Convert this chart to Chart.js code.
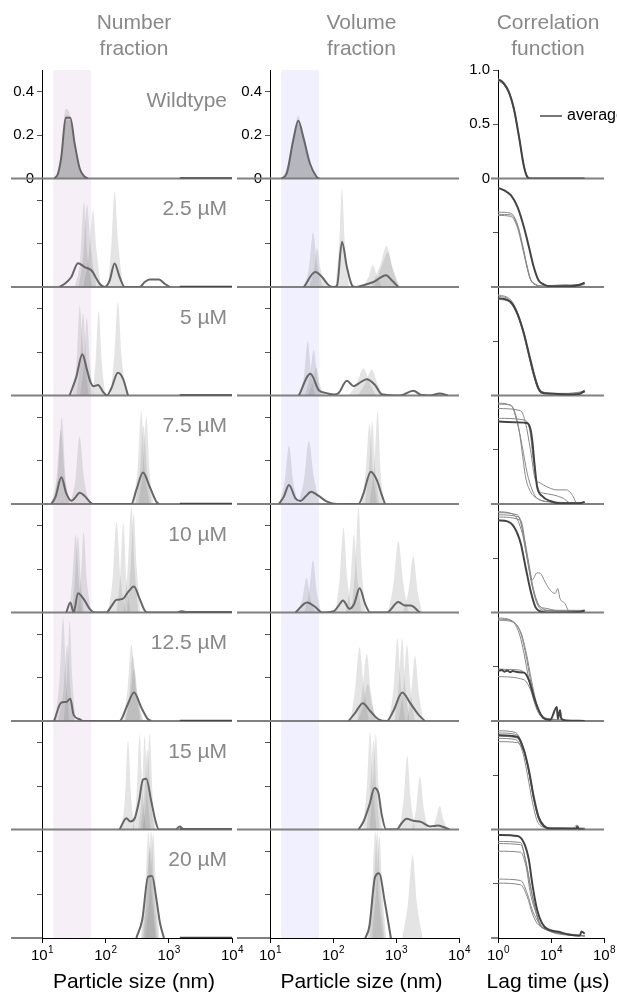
<!DOCTYPE html>
<html>
<head>
<meta charset="utf-8">
<script src="https://cdn.jsdelivr.net/npm/chart.js@4.4.1/dist/chart.umd.min.js"></script>
<style>
  html, body { margin: 0; padding: 0; background: #fff; }
  #wrap { position: relative; width: 617px; height: 994px; overflow: hidden; }
  canvas { position: absolute; top: 0; }
</style>
</head>
<body>
<div id="wrap">
  <canvas id="chart-number" width="250" height="994" style="left:0"></canvas>
  <canvas id="chart-volume" width="240" height="994" style="left:236px"></canvas>
  <canvas id="chart-corr" width="151" height="994" style="left:466px"></canvas>
</div>
<script>
/* =============================================
   DLS SIZE DISTRIBUTIONS + CORRELATION FUNCTIONS
   ============================================= */

Chart.defaults.font.family = "'Liberation Sans', Arial, sans-serif";
Chart.defaults.color = '#000';

// ---------- categories / ticks ----------
const rowLabels = ['Wildtype', '2.5 µM', '5 µM', '7.5 µM', '10 µM', '12.5 µM', '15 µM', '20 µM'];
const columnTitles = [['Number', 'fraction'], ['Volume', 'fraction'], ['Correlation', 'function']];
const axisTitles = ['Particle size (nm)', 'Particle size (nm)', 'Lag time (µs)'];
const sizeTicks = [10, 100, 1000, 10000];
const sizeTickExponents = ['1', '2', '3', '4'];
const lagTicks = [1, 1e4, 1e8];
const lagTickExponents = ['0', '4', '8'];
const fractionTicks = [0, 0.2, 0.4];
const fractionTickLabels = ['0', '0.2', '0.4'];
const corrTicks = [0, 0.5, 1];
const corrTickLabels = ['0', '0.5', '1.0'];
const bandRange = [15, 60];

// ---------- number fraction: [size nm, fraction] ----------
const numberAvg = [
    [[15.8, 0], [17.9, 0.023], [20.2, 0.1], [23.7, 0.28], [28, 0.28], [32.8, 0.16], [39.4, 0.046], [47.2, 0.008], [53.2, 0]],
    [[19, 0], [22.8, 0.015], [29, 0.046], [37, 0.11], [47.2, 0.092], [60.1, 0.077], [81.4, 0.015], [97.5, 0], [117, 0.03], [140, 0.108], [168, 0.046], [202, 0], [348, 0], [418, 0.023], [501, 0.034], [703, 0.034], [865, 0.015], [1038, 0]],
    [[27.3, 0], [34.8, 0.086], [43.3, 0.19], [51.4, 0.117], [58, 0.063], [65.4, 0.043], [76.6, 0.048], [91.9, 0.017], [106, 0], [124, 0.032], [158, 0.105], [190, 0.078], [228, 0]],
    [[14, 0], [16.4, 0.034], [20.2, 0.123], [24.2, 0.049], [29, 0.015], [32.8, 0.026], [39.3, 0.052], [47.2, 0.037], [60.1, 0.003], [63, 0], [257, 0], [309, 0.065], [393, 0.145], [501, 0.08], [638, 0.011], [703, 0]],
    [[24.2, 0], [28, 0.046], [31.6, 0], [37, 0.089], [47.2, 0.055], [56.6, 0.017], [67.9, 0], [104, 0], [124, 0.028], [149, 0.058], [190, 0.063], [228, 0.094], [284, 0.12], [340, 0.071], [418, 0.009], [472, 0], [1300, 0], [1600, 0.006], [2000, 0]],
    [[15.5, 0], [20.2, 0.085], [24.2, 0.088], [28, 0.103], [31.6, 0.028], [39.3, 0.008], [44.4, 0], [168, 0], [215, 0.062], [284, 0.131], [370, 0.062], [472, 0.008], [532, 0]],
    [[168, 0], [215, 0.052], [248, 0.037], [291, 0.052], [340, 0.13], [393, 0.23], [444, 0.234], [532, 0.129], [624, 0.037], [703, 0], [1300, 0], [1493, 0.014], [1700, 0]],
    [[308, 0], [382, 0.083], [474, 0.283], [548, 0.286], [632, 0.19], [731, 0.068], [843, 0]]
];
const numberReps = [
    [
        [[15.5, 0], [18, 0.04], [20.5, 0.15], [23.5, 0.32], [27.5, 0.3], [32, 0.15], [40, 0.04], [52, 0]],
        [[16, 0], [18.5, 0.03], [21, 0.14], [24, 0.29], [28, 0.28], [33, 0.15], [41, 0.04], [54, 0]],
        [[15.8, 0], [18, 0.03], [20.5, 0.12], [23.5, 0.26], [28, 0.27], [33, 0.17], [40, 0.05], [53, 0]]
    ],
    [
        [[38, 0], [45, 0.15], [51.4, 0.38], [58, 0.2], [72, 0]],
        [[45, 0], [55, 0.15], [63.8, 0.35], [72, 0.18], [85, 0]],
        [[110, 0], [125, 0.2], [140, 0.44], [160, 0.2], [190, 0]],
        [[33, 0], [40, 0.12], [46, 0.39], [52, 0.15], [62, 0]]
    ],
    [
        [[30, 0], [35, 0.15], [39.3, 0.41], [45, 0.2], [55, 0]],
        [[35, 0], [40, 0.15], [44.4, 0.38], [50, 0.18], [60, 0]],
        [[40, 0], [46, 0.15], [51, 0.36], [57, 0.15], [66, 0]],
        [[62, 0], [70, 0.15], [78.5, 0.39], [88, 0.15], [100, 0]],
        [[120, 0], [140, 0.2], [158, 0.43], [180, 0.18], [215, 0]]
    ],
    [
        [[14, 0], [17, 0.12], [19.7, 0.34], [23, 0.12], [28, 0]],
        [[15, 0], [18, 0.15], [20.5, 0.4], [23.5, 0.12], [27, 0]],
        [[28, 0], [34, 0.12], [39, 0.31], [46, 0.12], [55, 0]],
        [[270, 0], [320, 0.15], [370, 0.43], [420, 0.15], [500, 0]],
        [[330, 0], [390, 0.15], [444, 0.4], [500, 0.15], [580, 0]],
        [[300, 0], [350, 0.14], [400, 0.36], [460, 0.14], [540, 0]]
    ],
    [
        [[27, 0], [30, 0.15], [34, 0.36], [38, 0.15], [43, 0]],
        [[30, 0], [33, 0.15], [37, 0.35], [41, 0.15], [46, 0]],
        [[36, 0], [41, 0.15], [45.5, 0.37], [51, 0.15], [60, 0]],
        [[110, 0], [130, 0.15], [150, 0.42], [175, 0.15], [210, 0]],
        [[150, 0], [170, 0.15], [192, 0.41], [215, 0.15], [250, 0]],
        [[195, 0], [225, 0.2], [257, 0.486], [290, 0.2], [330, 0]],
        [[220, 0], [250, 0.2], [280, 0.455], [315, 0.2], [360, 0]]
    ],
    [
        [[16, 0], [19, 0.2], [21.5, 0.477], [24, 0.2], [27, 0]],
        [[22, 0], [25, 0.2], [27.3, 0.46], [30, 0.2], [34, 0]],
        [[18, 0], [22, 0.15], [25, 0.35], [28, 0.15], [32, 0]],
        [[190, 0], [225, 0.15], [257, 0.354], [300, 0.15], [360, 0]],
        [[210, 0], [250, 0.12], [285, 0.24], [330, 0.1], [400, 0]],
        [[200, 0], [240, 0.12], [270, 0.3], [320, 0.12], [380, 0]]
    ],
    [
        [[180, 0], [205, 0.15], [228, 0.41], [255, 0.15], [290, 0]],
        [[270, 0], [310, 0.15], [348, 0.437], [390, 0.15], [440, 0]],
        [[330, 0], [375, 0.15], [418, 0.43], [465, 0.15], [520, 0]],
        [[390, 0], [445, 0.15], [501, 0.44], [560, 0.15], [630, 0]],
        [[360, 0], [410, 0.15], [460, 0.37], [520, 0.15], [590, 0]]
    ],
    [
        [[360, 0], [420, 0.2], [480, 0.49], [540, 0.2], [620, 0]],
        [[400, 0], [460, 0.2], [530, 0.49], [600, 0.2], [680, 0]],
        [[430, 0], [500, 0.2], [570, 0.48], [640, 0.2], [720, 0]],
        [[380, 0], [440, 0.18], [505, 0.42], [570, 0.18], [650, 0]]
    ]
];
const numberTail = [[1500, 0], [10000, 0]];

// ---------- volume fraction: [size nm, fraction] ----------
const volumeAvg = [
    [[15.3, 0], [18.4, 0.023], [23.4, 0.177], [28.1, 0.266], [33.7, 0.192], [43, 0.069], [54.8, 0.008], [60.3, 0]],
    [[34.4, 0], [52.6, 0.069], [67, 0.046], [85.5, 0.008], [103, 0], [116, 0.008], [139, 0.208], [166, 0.092], [200, 0.008], [225, 0], [305, 0.008], [439, 0.023], [695, 0.054], [855, 0.031], [1089, 0]],
    [[28.7, 0], [43.8, 0.1], [59.4, 0.025], [75.7, 0.012], [103, 0.005], [123, 0.012], [166, 0.068], [212, 0.043], [254, 0.055], [344, 0.075], [466, 0.048], [594, 0.006], [1156, 0], [1879, 0.022], [2541, 0.002], [3441, 0], [4955, 0.009], [6699, 0]],
    [[13.9, 0], [16.6, 0.034], [20, 0.088], [25.4, 0.026], [30.5, 0.014], [36.6, 0.034], [45, 0.057], [59.4, 0.037], [80.4, 0.011], [116, 0], [254, 0], [305, 0.049], [398, 0.149], [495, 0.111], [594, 0.042], [670, 0]],
    [[25.4, 0], [38.8, 0.046], [52.6, 0.025], [67, 0], [103, 0.006], [123, 0.032], [144, 0.055], [183, 0.017], [217, 0.04], [264, 0.112], [324, 0.04], [388, 0], [713, 0], [1089, 0.048], [1387, 0.032], [1706, 0.032], [2393, 0]],
    [[177, 0], [225, 0.038], [298, 0.082], [388, 0.046], [526, 0.008], [713, 0], [908, 0.046], [1259, 0.131], [1663, 0.085], [2254, 0.031], [2871, 0]],
    [[254, 0], [305, 0.037], [379, 0.114], [455, 0.191], [526, 0.168], [594, 0.068], [695, 0], [1025, 0], [1228, 0.029], [1472, 0.049], [1879, 0.04], [2541, 0.034], [3441, 0.014], [4655, 0.018], [6310, 0.006], [7125, 0]],
    [[326, 0], [377, 0.052], [467, 0.283], [538, 0.298], [670, 0.16], [830, 0]]
];
const volumeReps = [
    [
        [[15.5, 0], [19, 0.05], [24, 0.2], [28, 0.29], [33, 0.2], [42, 0.06], [58, 0]],
        [[16, 0], [20, 0.06], [25, 0.22], [29, 0.27], [35, 0.16], [45, 0.04], [60, 0]],
        [[15, 0], [18, 0.04], [23, 0.17], [27.5, 0.25], [33, 0.19], [43, 0.07], [55, 0]]
    ],
    [
        [[35, 0], [42, 0.1], [48.3, 0.25], [56, 0.1], [70, 0]],
        [[42, 0], [50, 0.08], [55.9, 0.18], [64, 0.08], [82, 0]],
        [[110, 0], [125, 0.2], [139, 0.45], [155, 0.2], [180, 0]],
        [[400, 0], [560, 0.1], [713, 0.19], [850, 0.1], [1100, 0]],
        [[300, 0], [370, 0.05], [427, 0.1], [500, 0.05], [600, 0]],
        [[450, 0], [600, 0.1], [750, 0.16], [900, 0.08], [1150, 0]]
    ],
    [
        [[30, 0], [35, 0.1], [39.8, 0.25], [45, 0.1], [52, 0]],
        [[36, 0], [43, 0.09], [49.5, 0.21], [56, 0.09], [66, 0]],
        [[40, 0], [47, 0.06], [54, 0.13], [62, 0.05], [72, 0]],
        [[180, 0], [240, 0.06], [305, 0.125], [380, 0.06], [480, 0]],
        [[250, 0], [330, 0.06], [413, 0.12], [500, 0.06], [620, 0]]
    ],
    [
        [[14, 0], [17, 0.1], [20, 0.27], [23.5, 0.1], [28, 0]],
        [[28, 0], [35, 0.12], [41.3, 0.29], [50, 0.12], [62, 0]],
        [[280, 0], [330, 0.15], [380, 0.37], [430, 0.15], [500, 0]],
        [[320, 0], [370, 0.15], [420, 0.38], [470, 0.15], [540, 0]],
        [[380, 0], [450, 0.17], [513, 0.43], [570, 0.15], [650, 0]]
    ],
    [
        [[28, 0], [33, 0.07], [38, 0.16], [44, 0.06], [52, 0]],
        [[35, 0], [42, 0.1], [48.3, 0.24], [55, 0.1], [65, 0]],
        [[110, 0], [128, 0.16], [147, 0.39], [168, 0.16], [195, 0]],
        [[160, 0], [190, 0.15], [215, 0.36], [245, 0.15], [285, 0]],
        [[195, 0], [225, 0.2], [254, 0.486], [285, 0.2], [330, 0]],
        [[750, 0], [920, 0.14], [1089, 0.33], [1300, 0.14], [1550, 0]],
        [[1300, 0], [1600, 0.11], [1879, 0.26], [2200, 0.1], [2600, 0]]
    ],
    [
        [[190, 0], [225, 0.15], [264, 0.34], [310, 0.15], [370, 0]],
        [[240, 0], [290, 0.13], [344, 0.31], [400, 0.13], [480, 0]],
        [[250, 0], [300, 0.07], [355, 0.17], [420, 0.07], [500, 0]],
        [[780, 0], [920, 0.16], [1050, 0.38], [1200, 0.16], [1400, 0]],
        [[950, 0], [1100, 0.16], [1250, 0.38], [1400, 0.16], [1650, 0]],
        [[1100, 0], [1300, 0.15], [1500, 0.35], [1700, 0.15], [2000, 0]],
        [[1500, 0], [1750, 0.13], [2000, 0.3], [2300, 0.13], [2700, 0]]
    ],
    [
        [[300, 0], [345, 0.2], [388, 0.45], [430, 0.2], [490, 0]],
        [[340, 0], [390, 0.18], [440, 0.41], [490, 0.18], [550, 0]],
        [[380, 0], [430, 0.2], [480, 0.44], [530, 0.2], [600, 0]],
        [[1150, 0], [1330, 0.15], [1510, 0.34], [1700, 0.15], [2000, 0]],
        [[1800, 0], [2100, 0.1], [2393, 0.245], [2750, 0.1], [3200, 0]],
        [[3800, 0], [4300, 0.05], [4955, 0.11], [5600, 0.05], [6500, 0]]
    ],
    [
        [[350, 0], [410, 0.2], [470, 0.49], [530, 0.2], [620, 0]],
        [[380, 0], [440, 0.2], [505, 0.49], [570, 0.2], [660, 0]],
        [[420, 0], [480, 0.2], [545, 0.47], [610, 0.2], [700, 0]],
        [[1260, 0], [1550, 0.16], [1832, 0.383], [2150, 0.16], [2630, 0]]
    ]
];

// ---------- correlation function: [lag µs, g] ----------
const corrAvg = [
    [[1, 0.91], [1.7, 0.9], [3, 0.87], [7, 0.79], [16, 0.64], [38, 0.39], [91, 0.11], [162, 0.015], [282, 0], [3467000, 0]],
    [[1, 0.914], [3, 0.89], [9.3, 0.846], [29, 0.74], [91, 0.55], [214, 0.37], [500, 0.185], [1175, 0.06], [2754, 0.025], [8710, 0.006], [269200, 0.006], [1479000, 0.02], [3467000, 0.04]],
    [[1, 0.9], [9.3, 0.86], [29, 0.754], [91, 0.57], [214, 0.385], [500, 0.2], [1175, 0.06], [2754, 0.02], [15490, 0.015], [269200, 0.01], [1479000, 0.015], [3467000, 0.045]],
    [[1, 0.76], [91, 0.75], [162, 0.745], [282, 0.69], [380, 0.59], [562, 0.375], [891, 0.16], [2089, 0.074], [8710, 0.028], [47860, 0.006], [1479000, 0.006], [3467000, 0.02]],
    [[1, 0.85], [5.2, 0.84], [16, 0.79], [51, 0.64], [120, 0.42], [282, 0.206], [676, 0.05], [1585, 0.01], [4898, 0], [1479000, 0.005], [3467000, 0.02]],
    [[1, 0.46], [2, 0.47], [3, 0.455], [5, 0.465], [8, 0.45], [13, 0.46], [20, 0.455], [35, 0.45], [91, 0.446], [214, 0.38], [500, 0.225], [1175, 0.1], [2754, 0.025], [8710, 0.01], [27540, 0.13], [33000, 0.02], [47860, 0.1], [60000, 0.02], [151400, 0.005], [3467000, 0]],
    [[1, 0.87], [29, 0.855], [91, 0.73], [214, 0.546], [500, 0.3], [1175, 0.114], [2754, 0.037], [8710, 0.006], [831800, 0.006], [1000000, 0.03], [1200000, 0.005], [3467000, 0]],
    [[1, 0.95], [29, 0.94], [91, 0.877], [214, 0.72], [380, 0.506], [891, 0.26], [2089, 0.136], [6500, 0.074], [27540, 0.06], [269200, 0.03], [1479000, 0.02], [2000000, 0.06], [3467000, 0.04]]
];
const corrReps = [
    [
        [[1, 0.92], [3, 0.88], [7, 0.8], [16, 0.65], [38, 0.4], [91, 0.12], [162, 0.02], [282, 0], [3467000, 0]],
        [[1, 0.9], [3, 0.86], [7, 0.78], [16, 0.62], [38, 0.37], [91, 0.1], [162, 0.012], [282, 0], [3467000, 0]]
    ],
    [
        [[1, 0.69], [9.3, 0.68], [29, 0.58], [68, 0.4], [162, 0.185], [282, 0.077], [676, 0.025], [2754, 0.006], [47860, 0.01], [151400, 0.02], [478600, 0.01], [1479000, 0.015], [3467000, 0.03]],
        [[1, 0.67], [9.3, 0.665], [29, 0.57], [68, 0.39], [162, 0.18], [282, 0.07], [676, 0.02], [2754, 0.01], [85110, 0.02], [269200, 0.015], [1479000, 0.025], [3467000, 0.035]],
        [[1, 0.66], [9.3, 0.65], [29, 0.55], [68, 0.37], [162, 0.17], [282, 0.07], [676, 0.022], [2754, 0.008], [47860, 0.006], [478600, 0.02], [3467000, 0.02]]
    ],
    [
        [[1, 0.93], [9.3, 0.88], [29, 0.77], [91, 0.58], [214, 0.39], [380, 0.28], [500, 0.22], [1175, 0.07], [2754, 0.03], [15490, 0.02], [269200, 0.02], [3467000, 0.04]],
        [[1, 0.92], [9.3, 0.87], [29, 0.76], [91, 0.57], [214, 0.38], [500, 0.19], [1175, 0.05], [2754, 0.03], [8710, 0.02], [269200, 0.015], [3467000, 0.03]],
        [[1, 0.9], [9.3, 0.86], [29, 0.75], [91, 0.56], [214, 0.37], [500, 0.18], [1175, 0.06], [2754, 0.025], [15490, 0.02], [269200, 0.015], [1479000, 0.02], [3467000, 0.035]],
        [[1, 0.89], [9.3, 0.85], [29, 0.74], [91, 0.55], [214, 0.36], [500, 0.19], [1175, 0.07], [2754, 0.02], [47860, 0.015], [3467000, 0.03]]
    ],
    [
        [[1, 0.93], [5.2, 0.92], [16, 0.87], [39, 0.68], [68, 0.47], [120, 0.25], [282, 0.114], [891, 0.052], [4898, 0.022], [3467000, 0.01]],
        [[1, 0.92], [9.3, 0.91], [29, 0.745], [68, 0.53], [162, 0.28], [380, 0.13], [891, 0.052], [8710, 0.02], [3467000, 0.01]],
        [[1, 0.88], [51, 0.86], [120, 0.745], [282, 0.5], [676, 0.22], [1175, 0.2], [2754, 0.175], [8710, 0.145], [27540, 0.13], [151400, 0.13], [478600, 0.068], [831800, 0.012], [3467000, 0.01]],
        [[1, 0.79], [91, 0.775], [250, 0.68], [500, 0.375], [1175, 0.13], [2754, 0.1], [15490, 0.083], [85110, 0.052], [269200, 0.012], [3467000, 0.01]]
    ],
    [
        [[1, 0.93], [16, 0.9], [68, 0.73], [162, 0.51], [380, 0.3], [891, 0.366], [1585, 0.36], [3630, 0.28], [8710, 0.206], [20400, 0.175], [32000, 0.22], [47860, 0.13], [113000, 0.083], [200000, 0.02], [360000, 0], [3467000, 0.01]],
        [[1, 0.92], [29, 0.9], [91, 0.7], [214, 0.45], [500, 0.2], [1175, 0.068], [4898, 0.037], [27540, 0.02], [3467000, 0.02]],
        [[1, 0.9], [39, 0.88], [120, 0.575], [282, 0.33], [676, 0.145], [1585, 0.05], [8710, 0.02], [3467000, 0.015]],
        [[1, 0.88], [51, 0.85], [162, 0.5], [380, 0.24], [891, 0.08], [2754, 0.02], [3467000, 0.01]]
    ],
    [
        [[1, 0.95], [9.3, 0.93], [39, 0.81], [91, 0.625], [214, 0.38], [500, 0.19], [1175, 0.07], [2754, 0.025], [8710, 0.01], [3467000, 0]],
        [[1, 0.94], [12, 0.92], [51, 0.81], [120, 0.625], [282, 0.38], [676, 0.18], [1585, 0.055], [4898, 0.015], [3467000, 0]],
        [[1, 0.93], [15, 0.91], [60, 0.8], [140, 0.62], [330, 0.38], [780, 0.17], [1800, 0.05], [5500, 0.01], [3467000, 0]],
        [[1, 0.41], [91, 0.38], [282, 0.29], [676, 0.163], [1585, 0.07], [4898, 0.025], [3467000, 0]],
        [[1, 0.48], [5, 0.475], [40, 0.47], [120, 0.43], [282, 0.33], [676, 0.18], [1585, 0.07], [4898, 0.02], [3467000, 0]]
    ],
    [
        [[1, 0.91], [20, 0.895], [80, 0.76], [200, 0.55], [450, 0.3], [1050, 0.11], [2500, 0.035], [8710, 0.01], [478600, 0.01], [831800, 0.04], [1000000, 0.01], [3467000, 0.01]],
        [[1, 0.89], [25, 0.875], [91, 0.73], [214, 0.53], [500, 0.28], [1175, 0.1], [2754, 0.03], [15490, 0.015], [3467000, 0.01]],
        [[1, 0.86], [25, 0.845], [100, 0.7], [260, 0.48], [600, 0.25], [1300, 0.08], [3000, 0.025], [15490, 0.015], [3467000, 0.01]],
        [[1, 0.84], [20, 0.83], [70, 0.72], [170, 0.5], [400, 0.25], [900, 0.08], [2200, 0.025], [8710, 0.015], [3467000, 0.01]],
        [[1, 0.81], [30, 0.8], [110, 0.68], [280, 0.47], [650, 0.22], [1500, 0.07], [3500, 0.02], [8710, 0.015], [3467000, 0.01]]
    ],
    [
        [[1, 0.89], [51, 0.88], [120, 0.72], [282, 0.475], [676, 0.26], [1585, 0.12], [4898, 0.09], [27540, 0.06], [151400, 0.03], [3467000, 0.02]],
        [[1, 0.87], [51, 0.86], [130, 0.7], [300, 0.46], [700, 0.25], [1600, 0.11], [4898, 0.08], [27540, 0.05], [151400, 0.04], [3467000, 0.02]],
        [[1, 0.8], [51, 0.79], [130, 0.66], [282, 0.41], [800, 0.22], [2089, 0.1], [6000, 0.07], [27540, 0.04], [3467000, 0.02]],
        [[1, 0.543], [51, 0.53], [162, 0.41], [380, 0.26], [891, 0.167], [2089, 0.1], [8710, 0.074], [47860, 0.043], [3467000, 0.02]],
        [[1, 0.506], [51, 0.49], [162, 0.38], [380, 0.23], [891, 0.136], [2754, 0.09], [15490, 0.05], [3467000, 0.02]]
    ]
];

// =================== HELPERS ===================
const repFill = 'rgba(120,120,120,0.2)';
const FONT = "'Liberation Sans', Arial, sans-serif";
const TOP = 70;          // top of first row
const XAXIS_H = 56;      // space under last row

function distDatasets(avg, reps, tail) {
    const sets = [];
    avg.forEach((row, i) => {
        const yAxisID = 'r' + i;
        sets.push({ data: row, yAxisID, borderColor: '#666', borderWidth: 2, fill: false, order: 0, cubicInterpolationMode: 'monotone' });
        if (tail) sets.push({ data: tail, yAxisID, borderColor: '#444', borderWidth: 2.5, fill: false, order: 0 });
        reps[i].forEach(r => sets.push({ data: r, yAxisID, borderWidth: 0, backgroundColor: repFill, fill: 'origin', order: 1, cubicInterpolationMode: 'monotone' }));
    });
    return sets;
}

function corrDatasets(avg, reps) {
    const sets = [];
    avg.forEach((row, i) => {
        const yAxisID = 'r' + i;
        sets.push({ data: row, yAxisID, borderColor: '#444', borderWidth: 2, fill: false, order: 0, cubicInterpolationMode: 'monotone' });
        reps[i].forEach(r => sets.push({ data: r, yAxisID, borderColor: '#888', borderWidth: 1, fill: false, order: 1, cubicInterpolationMode: 'monotone' }));
    });
    return sets;
}

// one y axis per row, stacked top to bottom
function rowAxes(max, ticks, labels, width) {
    const axes = {};
    rowLabels.forEach((_, i) => {
        const vals = i === 0 ? ticks : ticks.slice(1);
        axes['r' + i] = {
            axis: 'y', type: 'linear', position: 'left',
            stack: 'rows', stackWeight: 1, weight: rowLabels.length - i,
            min: 0, max: max,
            border: { color: '#000', width: 1 },
            grid: { drawOnChartArea: false, tickLength: 5, color: '#555' },
            ticks: { padding: 3, font: { size: 15 }, callback: (v, k) => i === 0 ? labels[k] : '' },
            afterBuildTicks: s => { s.ticks = vals.map(v => ({ value: v })); },
            afterFit: s => { s.width = width; s.paddingTop = 0; s.paddingBottom = 0; }
        };
    });
    return axes;
}

// decade labels and axis title are drawn by the decor plugin
function xAxis(min, max, ticks) {
    return {
        type: 'logarithmic', min, max, position: 'bottom',
        border: { color: '#000', width: 1 },
        grid: { drawOnChartArea: false, tickLength: 5, color: '#000' },
        ticks: { maxRotation: 0, autoSkip: false, callback: () => '' },
        afterBuildTicks: s => { s.ticks = ticks.map(v => ({ value: v })); },
        afterFit: s => { s.height = XAXIS_H; s.paddingLeft = 0; s.paddingRight = 0; }
    };
}

// band, row baselines, titles, decade labels, row labels, legend
function decor(cfg) {
    return {
        id: 'decor',
        beforeDatasetsDraw(chart) {
            const { ctx, chartArea: a } = chart;
            ctx.save();
            if (cfg.bandColor) {
                const x0 = chart.scales.x.getPixelForValue(bandRange[0]);
                const x1 = chart.scales.x.getPixelForValue(bandRange[1]);
                ctx.fillStyle = cfg.bandColor;
                ctx.fillRect(x0, a.top, x1 - x0, a.bottom - a.top);
            }
            ctx.strokeStyle = '#808080';
            ctx.lineWidth = 2;
            rowLabels.forEach((_, i) => {
                const y = chart.scales['r' + i].getPixelForValue(0);
                const right = i === rowLabels.length - 1 ? a.left : a.right;
                ctx.beginPath();
                ctx.moveTo(cfg.lineFrom, y);
                ctx.lineTo(right, y);
                ctx.stroke();
            });
            ctx.restore();
        },
        afterDraw(chart) {
            const { ctx, chartArea: a } = chart;
            const x = chart.scales.x;
            const cx = (a.left + a.right) / 2 - 3;
            ctx.save();

            // decade tick labels
            ctx.fillStyle = '#000';
            ctx.textBaseline = 'alphabetic';
            ctx.textAlign = 'left';
            cfg.ticks.forEach((v, k) => {
                const px = x.getPixelForValue(v);
                ctx.font = '15px ' + FONT;
                const wBase = ctx.measureText('10').width;
                ctx.font = '10px ' + FONT;
                const wExp = ctx.measureText(cfg.exps[k]).width;
                const left = px - (wBase + wExp) / 2;
                ctx.font = '15px ' + FONT;
                ctx.fillText('10', left, a.bottom + 22);
                ctx.font = '10px ' + FONT;
                ctx.fillText(cfg.exps[k], left + wBase + 0.5, a.bottom + 15);
            });

            // axis title
            ctx.textAlign = 'center';
            ctx.textBaseline = 'middle';
            ctx.font = '21px ' + FONT;
            ctx.fillText(cfg.axisTitle, cx, 982);

            // column titles
            ctx.fillStyle = '#888';
            ctx.fillText(cfg.title[0], cx, 23);
            ctx.fillText(cfg.title[1], cx, 49);

            if (cfg.rowText) {
                ctx.textAlign = 'right';
                rowLabels.forEach((label, i) => {
                    ctx.fillText(label, a.right - 5, chart.scales['r' + i].top + 31);
                });
            }
            if (cfg.legend) {
                const y = TOP + 46;
                ctx.strokeStyle = '#777';
                ctx.lineWidth = 2;
                ctx.beginPath();
                ctx.moveTo(a.left + 42, y);
                ctx.lineTo(a.left + 64, y);
                ctx.stroke();
                ctx.fillStyle = '#000';
                ctx.textAlign = 'left';
                ctx.font = '16px ' + FONT;
                ctx.fillText('average', a.left + 69, y);
            }
            ctx.restore();
        }
    };
}

function makeChart(id, o) {
    return new Chart(document.getElementById(id), {
        type: 'line',
        data: { datasets: o.datasets },
        options: {
            responsive: false,
            animation: false,
            layout: { padding: { top: TOP, right: o.padRight, bottom: 0, left: 0 } },
            elements: { point: { radius: 0 }, line: { tension: 0 } },
            plugins: { legend: { display: false }, tooltip: { enabled: false } },
            scales: Object.assign({ x: o.x }, o.y)
        },
        plugins: [decor(o.decor)]
    });
}

// =================== CHARTS ===================
makeChart('chart-number', {
    datasets: distDatasets(numberAvg, numberReps, numberTail),
    padRight: 18,
    x: xAxis(10, 10000, sizeTicks),
    y: rowAxes(0.5, fractionTicks, fractionTickLabels, 42),
    decor: { title: columnTitles[0], axisTitle: axisTitles[0], ticks: sizeTicks, exps: sizeTickExponents, bandColor: 'rgba(215,180,225,0.22)', lineFrom: 11, rowText: true }
});

makeChart('chart-volume', {
    datasets: distDatasets(volumeAvg, volumeReps, null),
    padRight: 17,
    x: xAxis(10, 10000, sizeTicks),
    y: rowAxes(0.5, fractionTicks, fractionTickLabels, 34),
    decor: { title: columnTitles[1], axisTitle: axisTitles[1], ticks: sizeTicks, exps: sizeTickExponents, bandColor: 'rgba(180,180,255,0.2)', lineFrom: 1, rowText: false }
});

makeChart('chart-corr', {
    datasets: corrDatasets(corrAvg, corrReps),
    padRight: 13,
    x: xAxis(1, 1e8, lagTicks),
    y: rowAxes(1, corrTicks, corrTickLabels, 32),
    decor: { title: columnTitles[2], axisTitle: axisTitles[2], ticks: lagTicks, exps: lagTickExponents, bandColor: null, lineFrom: 25, rowText: false, legend: true }
});
</script>
</body>
</html>
